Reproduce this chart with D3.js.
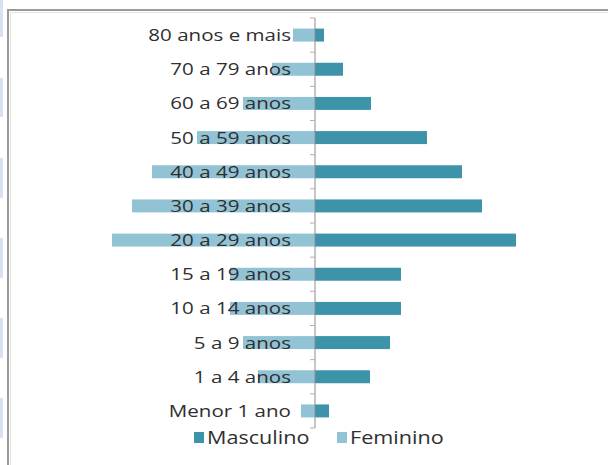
<!DOCTYPE html>
<html>
<head>
<meta charset="utf-8">
<script src="https://cdn.jsdelivr.net/npm/d3@7/dist/d3.min.js"></script>
<style>
  html, body { margin: 0; padding: 0; background: #ffffff; }
  svg { display: block; }
</style>
</head>
<body>
<svg id="chart" width="608" height="465"></svg>
<script>
// ---- data (top to bottom) ----
const categories = ["80 anos e mais", "70 a 79 anos", "60 a 69 anos", "50 a 59 anos",
  "40 a 49 anos", "30 a 39 anos", "20 a 29 anos", "15 a 19 anos", "10 a 14 anos",
  "5 a 9 anos", "1 a 4 anos", "Menor 1 ano"];
const masculino = [0.45, 1.4, 2.8, 5.6, 7.35, 8.35, 10.05, 4.3, 4.3, 3.75, 2.75, 0.7];
const feminino  = [1.1, 2.15, 3.6, 5.9, 8.15, 9.15, 10.15, 4.25, 4.25, 3.6, 2.85, 0.7];
const seriesNames = ["Masculino", "Feminino"];
const seriesColors = ["#3d93a9", "#92c3d5"];

const svg = d3.select("#chart");

// left-edge screenshot artifacts
const stripY = [[0, 37], [78, 117], [158, 198], [238, 278], [318, 358], [398, 438]];
svg.selectAll("rect.strip").data(stripY).join("rect")
  .attr("x", 0).attr("y", d => d[0]).attr("width", 3).attr("height", d => d[1] - d[0])
  .attr("fill", "#d6e2f0");

// chart frame
svg.append("rect").attr("x", 8).attr("y", 10).attr("width", 640).attr("height", 480)
  .attr("fill", "#ffffff").attr("stroke", "#9a9a9a").attr("stroke-width", 2);
svg.append("rect").attr("x", 10.5).attr("y", 12.5).attr("width", 640).attr("height", 480)
  .attr("fill", "none").attr("stroke", "#e6e6e6").attr("stroke-width", 1);

const x = d3.scaleLinear().domain([-12.5, 12.5]).range([65, 565]);
const y = d3.scaleBand().domain(categories).range([18, 428])
  .paddingInner(0.62).paddingOuter(0.31);

const g = svg.append("g");

// female bars (left)
g.selectAll("rect.fem").data(categories).join("rect")
  .attr("class", "fem")
  .attr("x", (d, i) => x(-feminino[i]))
  .attr("y", d => y(d))
  .attr("width", (d, i) => x(0) - x(-feminino[i]))
  .attr("height", y.bandwidth())
  .attr("fill", seriesColors[1]);

// male bars (right)
g.selectAll("rect.masc").data(categories).join("rect")
  .attr("class", "masc")
  .attr("x", x(0))
  .attr("y", d => y(d))
  .attr("width", (d, i) => x(masculino[i]) - x(0))
  .attr("height", y.bandwidth())
  .attr("fill", seriesColors[0]);

// vertical axis line and tick marks at category boundaries
const bandStep = y.step();
const axisTop = y.range()[0];
const tickYs = d3.range(categories.length + 1).map(i => axisTop + i * bandStep);
g.append("line").attr("x1", x(0)).attr("x2", x(0))
  .attr("y1", axisTop).attr("y2", axisTop + categories.length * bandStep)
  .attr("stroke", "#8c8c8c").attr("stroke-width", 1);
g.selectAll("line.tick").data(tickYs).join("line")
  .attr("class", "tick")
  .attr("x1", x(0) - 5).attr("x2", x(0))
  .attr("y1", d => d).attr("y2", d => d)
  .attr("stroke", "#c8a8a8").attr("stroke-width", 1);

// category labels (drawn over bars)
g.selectAll("text.cat").data(categories).join("text")
  .attr("class", "cat")
  .attr("transform", d => `translate(291,${y(d) + y.bandwidth() / 2 + 6}) scale(1.21,1)`)
  .attr("text-anchor", "end")
  .attr("font-family", "'Open Sans', 'Noto Sans', sans-serif")
  .attr("font-size", 17)
  .attr("fill", "#2f2f2f")
  .text(d => d);

// legend
const legendX = [194, 337];
const lg = svg.append("g");
seriesNames.forEach((name, i) => {
  lg.append("rect").attr("x", legendX[i]).attr("y", 432).attr("width", 10).attr("height", 11)
    .attr("fill", seriesColors[i]);
  lg.append("text")
    .attr("transform", `translate(${legendX[i] + 13},444) scale(1.2,1)`)
    .attr("font-family", "'Open Sans', 'Noto Sans', sans-serif")
    .attr("font-size", 18)
    .attr("fill", "#2f2f2f")
    .text(name);
});
</script>
</body>
</html>
